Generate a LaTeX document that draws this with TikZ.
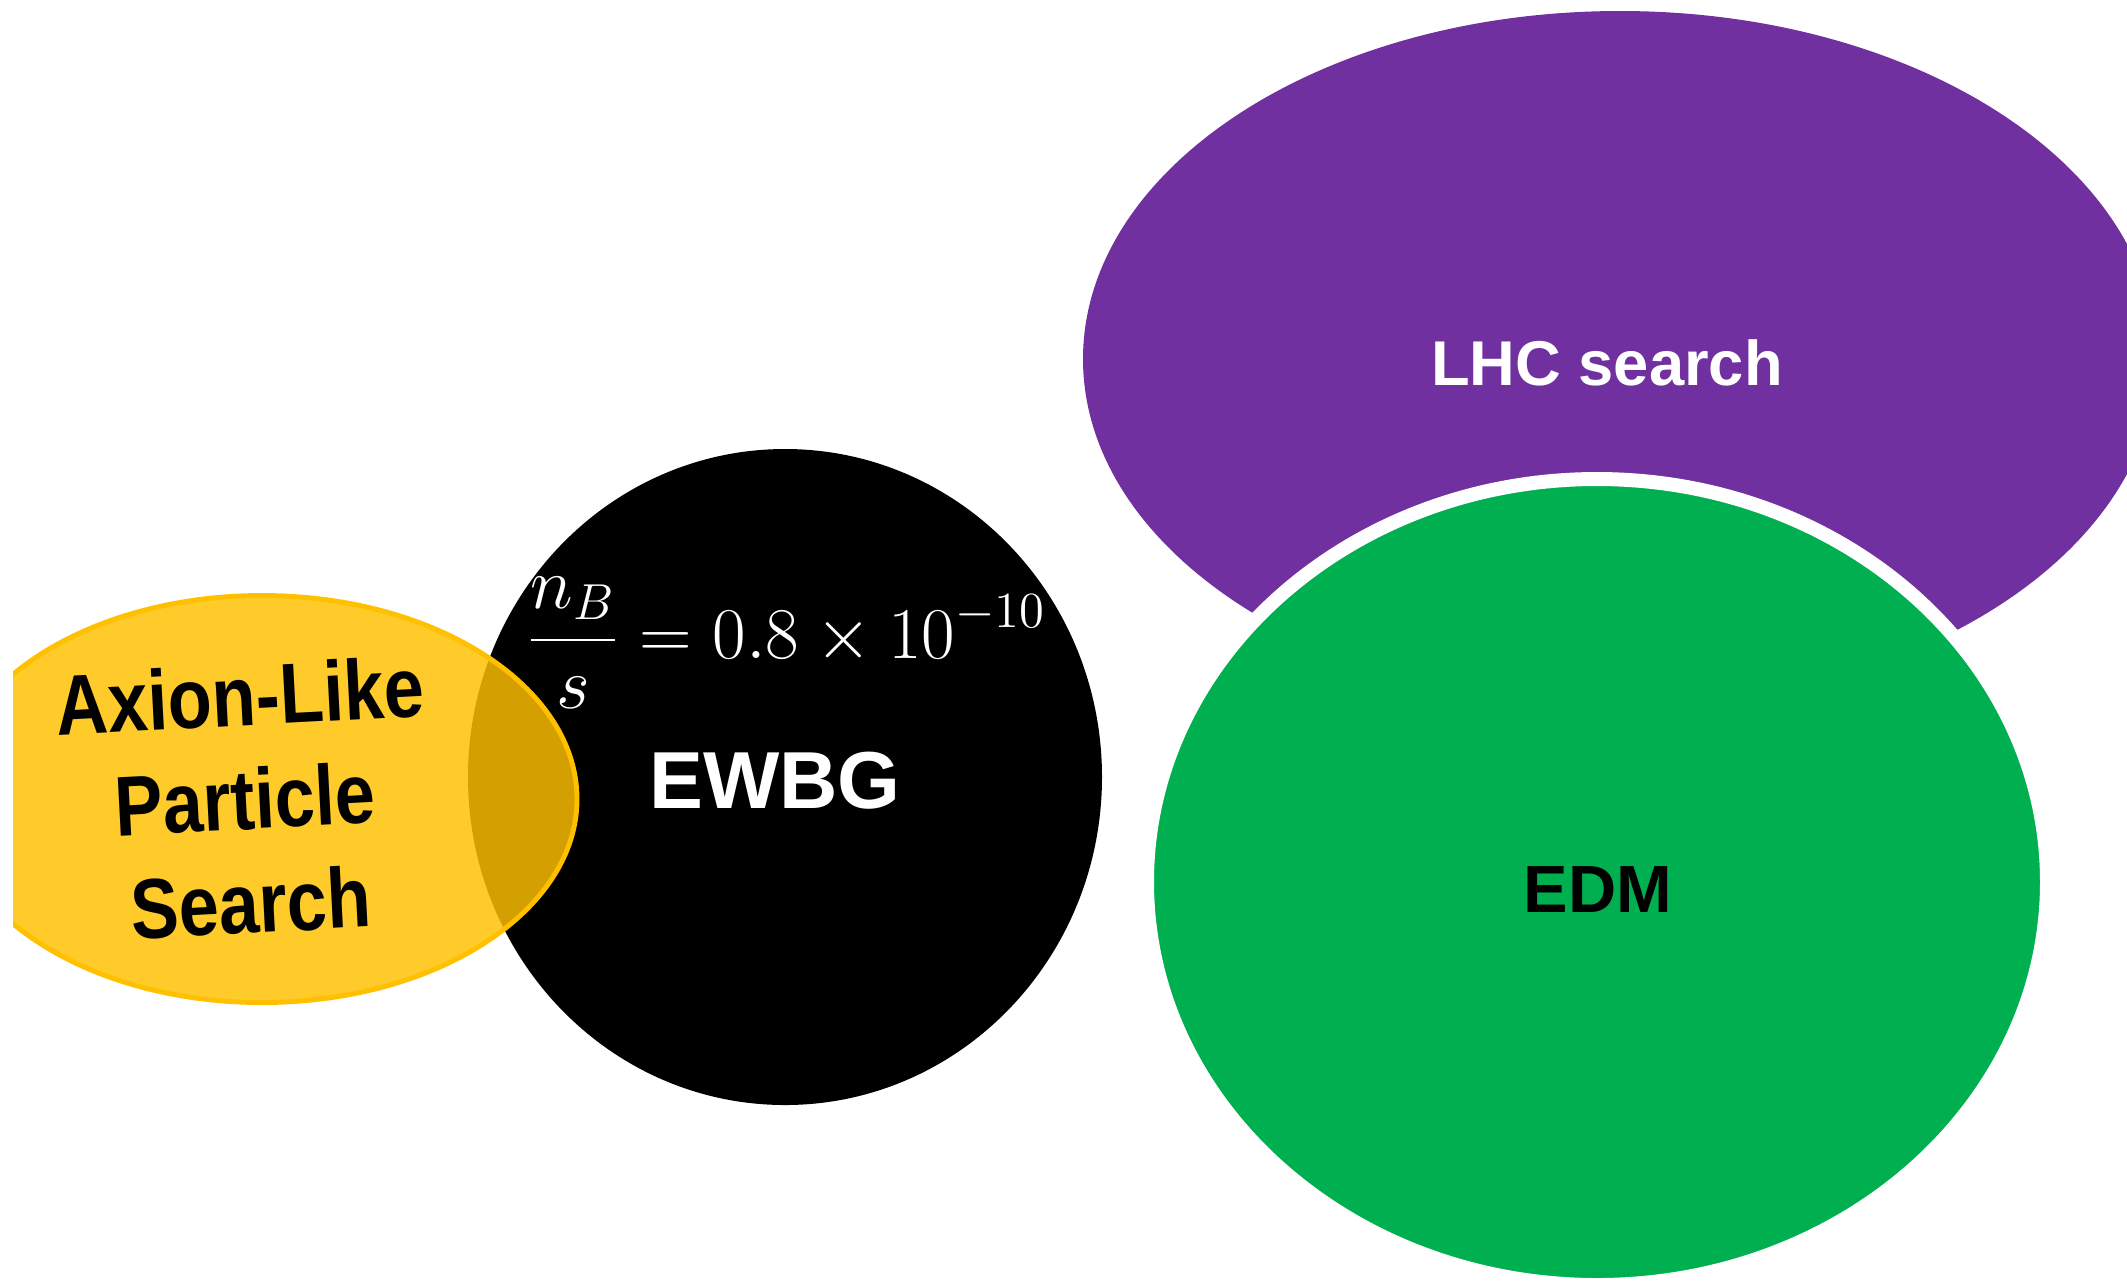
\documentclass[tikz,border=0pt]{standalone}
\usepackage{fontspec}
\setsansfont{Liberation Sans}
\usetikzlibrary{shapes.geometric, positioning}
\definecolor{alpyellow}{HTML}{FFC000}
\definecolor{lhcpurple}{HTML}{7030A0}
\definecolor{edmgreen}{HTML}{00B050}
\tikzset{blob/.style={ellipse, inner sep=0pt}, lbl/.style={font=\sffamily\bfseries}}

\begin{document}
\begin{tikzpicture}
            \useasboundingbox (0,0) rectangle (21.27,-12.86);
            \clip (0,0) rectangle (21.27,-12.86);

            \node[blob, fill=black, minimum width=6.34cm, minimum height=6.56cm] (ewbg) at (7.85,-7.77) {};
            \node[lbl, text=white, font=\sffamily\bfseries\fontsize{23}{23}\selectfont] (ewbg-text) at (7.75,-7.81) {EWBG};
            \begin{scope}
                \clip (0.13,0) rectangle (10,-12.86);
                \node[blob, fill=alpyellow, fill opacity=0.83, draw=alpyellow, line width=1.4pt, minimum width=6.30cm, minimum height=4.07cm] (alp) at (2.62,-7.99) {};
            \end{scope}
            \node[text=white, anchor=base west, inner sep=0pt, font=\fontsize{19.7}{24}\selectfont] (ratio) at (5.26,-6.58) {$\displaystyle\frac{n_B}{s} = 0.8\times10^{-10}$};
            \node[lbl, align=center, rotate=3, yscale=1.18, transform shape, font=\sffamily\bfseries\fontsize{20.5}{25}\selectfont] (alp-text) at (2.45,-7.99) {Axion-Like\\Particle\\Search};

            \node[blob, fill=lhcpurple, minimum width=10.74cm, minimum height=6.96cm] (lhc) at (16.20,-3.59) {};
            \node[lbl, text=white, font=\sffamily\bfseries\fontsize{18}{18}\selectfont] (lhc-text) at (16.07,-3.63) {LHC search};
            \node[blob, fill=edmgreen, draw=white, line width=0.14cm, minimum width=9.00cm, minimum height=8.06cm] (edm) at (15.97,-8.82) {};
            \node[lbl, font=\sffamily\bfseries\fontsize{19}{19}\selectfont] (edm-text) at (15.98,-8.90) {EDM};
      \end{tikzpicture}
\end{document}
